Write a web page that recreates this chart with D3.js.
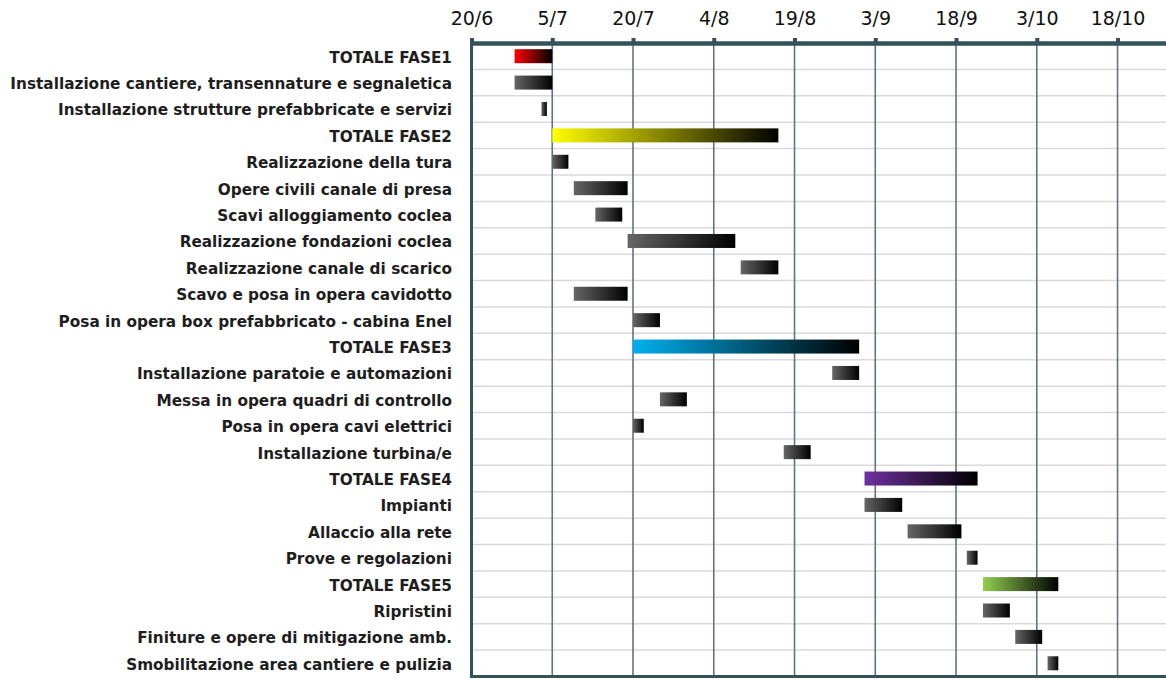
<!DOCTYPE html>
<html>
<head>
<meta charset="utf-8">
<script src="https://cdn.jsdelivr.net/npm/d3@7"></script>
<style>
  html, body { margin: 0; padding: 0; background: #ffffff; }
  svg { display: block; }
</style>
</head>
<body>
<svg id="chart" width="1166" height="679"></svg>
<script>
// ---------------- DATA ----------------
const tasks = [
  "TOTALE FASE1",
  "Installazione cantiere, transennature e segnaletica",
  "Installazione strutture prefabbricate e servizi",
  "TOTALE FASE2",
  "Realizzazione della tura",
  "Opere civili canale di presa",
  "Scavi alloggiamento coclea",
  "Realizzazione fondazioni coclea",
  "Realizzazione canale di scarico",
  "Scavo e posa in opera cavidotto",
  "Posa in opera box prefabbricato - cabina Enel",
  "TOTALE FASE3",
  "Installazione paratoie e automazioni",
  "Messa in opera quadri di controllo",
  "Posa in opera cavi elettrici",
  "Installazione turbina/e",
  "TOTALE FASE4",
  "Impianti",
  "Allaccio alla rete",
  "Prove e regolazioni",
  "TOTALE FASE5",
  "Ripristini",
  "Finiture e opere di mitigazione amb.",
  "Smobilitazione area cantiere e pulizia"
];
const startDates = [
  "28/6", "28/6", "3/7",
  "5/7", "5/7", "9/7", "13/7", "19/7", "9/8", "9/7", "20/7",
  "20/7", "26/8", "25/7", "20/7", "17/8",
  "1/9", "1/9", "9/9", "20/9",
  "23/9", "23/9", "29/9", "5/10"
];
const endDates = [
  "5/7", "5/7", "4/7",
  "16/8", "8/7", "19/7", "18/7", "8/8", "16/8", "19/7", "25/7",
  "31/8", "31/8", "30/7", "22/7", "22/8",
  "22/9", "8/9", "19/9", "22/9",
  "7/10", "28/9", "4/10", "7/10"
];
// which colour group each row belongs to
const groups = [
  "fase1", "task", "task",
  "fase2", "task", "task", "task", "task", "task", "task", "task",
  "fase3", "task", "task", "task", "task",
  "fase4", "task", "task", "task",
  "fase5", "task", "task", "task"
];
const tickLabels = ["20/6", "5/7", "20/7", "4/8", "19/8", "3/9", "18/9", "3/10", "18/10"];
const axisStart = "20/6";
const axisEnd = "27/10";

// ---------------- STYLE ----------------
const groupColors = {
  fase1: "#ff0000",
  fase2: "#ffff00",
  fase3: "#00b0f0",
  fase4: "#7030a0",
  fase5: "#92d050",
  task:  "#666666"
};
const YEAR = 2021;
const parse = s => { const [d, m] = s.split("/").map(Number); return new Date(YEAR, m - 1, d); };
const fmt = d => `${d.getDate()}/${d.getMonth() + 1}`;

const svg = d3.select("#chart");
const plotLeft = 471.5, plotRight = 1166, plotTop = 43, plotBottom = 676.5;

const x = d3.scaleTime()
  .domain([parse(axisStart), parse(axisEnd)])
  .range([plotLeft, plotRight]);

const y = d3.scaleBand()
  .domain(d3.range(tasks.length))
  .range([plotTop, plotBottom])
  .paddingInner(0).paddingOuter(0);

const barH = 14;
const axisColor = "#33525a";

// gradients
const defs = svg.append("defs");
Object.entries(groupColors).forEach(([k, c]) => {
  const g = defs.append("linearGradient").attr("id", "grad-" + k)
    .attr("x1", "0").attr("x2", "1").attr("y1", "0").attr("y2", "0");
  g.append("stop").attr("offset", "0%").attr("stop-color", c);
  g.append("stop").attr("offset", "100%").attr("stop-color", "#000000");
});

// horizontal row separators
svg.append("g").selectAll("line")
  .data(d3.range(1, tasks.length))
  .join("line")
  .attr("x1", plotLeft).attr("x2", plotRight)
  .attr("y1", i => y(i)).attr("y2", i => y(i))
  .attr("stroke", "#dadada").attr("stroke-width", 1.5);

// vertical grid lines
const tickDates = tickLabels.map(parse);
svg.append("g").selectAll("line")
  .data(tickDates.slice(1))
  .join("line")
  .attr("x1", d => x(d)).attr("x2", d => x(d))
  .attr("y1", plotTop).attr("y2", plotBottom)
  .attr("stroke", "#5f767b").attr("stroke-width", 1.6);

// bars
const rows = tasks.map((t, i) => ({
  name: t, start: parse(startDates[i]), end: parse(endDates[i]), group: groups[i], i
}));
svg.append("g").selectAll("rect")
  .data(rows)
  .join("rect")
  .attr("x", d => x(d.start))
  .attr("width", d => x(d.end) - x(d.start))
  .attr("y", d => y(d.i) + (y.bandwidth() - barH) / 2)
  .attr("height", barH)
  .attr("fill", d => `url(#grad-${d.group})`);

// task labels
svg.append("g").selectAll("text")
  .data(rows)
  .join("text")
  .attr("x", 452)
  .attr("y", d => y(d.i) + y.bandwidth() / 2)
  .attr("dy", "0.42em")
  .attr("text-anchor", "end")
  .attr("font-family", "'DejaVu Sans', sans-serif")
  .attr("font-weight", "bold")
  .attr("font-size", "15.3px")
  .attr("fill", "#1e1e1e")
  .text(d => d.name);

// left and bottom frame lines
svg.append("line")
  .attr("x1", plotLeft).attr("x2", plotLeft)
  .attr("y1", plotTop).attr("y2", plotBottom)
  .attr("stroke", axisColor).attr("stroke-width", 3);
svg.append("line")
  .attr("x1", plotLeft - 1.5).attr("x2", plotRight)
  .attr("y1", plotBottom).attr("y2", plotBottom)
  .attr("stroke", axisColor).attr("stroke-width", 3);

// top axis
const axis = d3.axisTop(x)
  .tickValues(tickDates)
  .tickFormat(fmt)
  .tickSizeInner(5)
  .tickSizeOuter(0)
  .tickPadding(13);
const ax = svg.append("g").attr("transform", `translate(0,${plotTop})`).call(axis);
ax.select(".domain").attr("stroke", axisColor).attr("stroke-width", 4.5);
ax.selectAll(".tick line").attr("stroke", axisColor).attr("stroke-width", 4);
ax.selectAll(".tick text")
  .attr("font-family", "'DejaVu Sans', sans-serif")
  .attr("font-size", "19px")
  .attr("fill", "#111111");
</script>
</body>
</html>
